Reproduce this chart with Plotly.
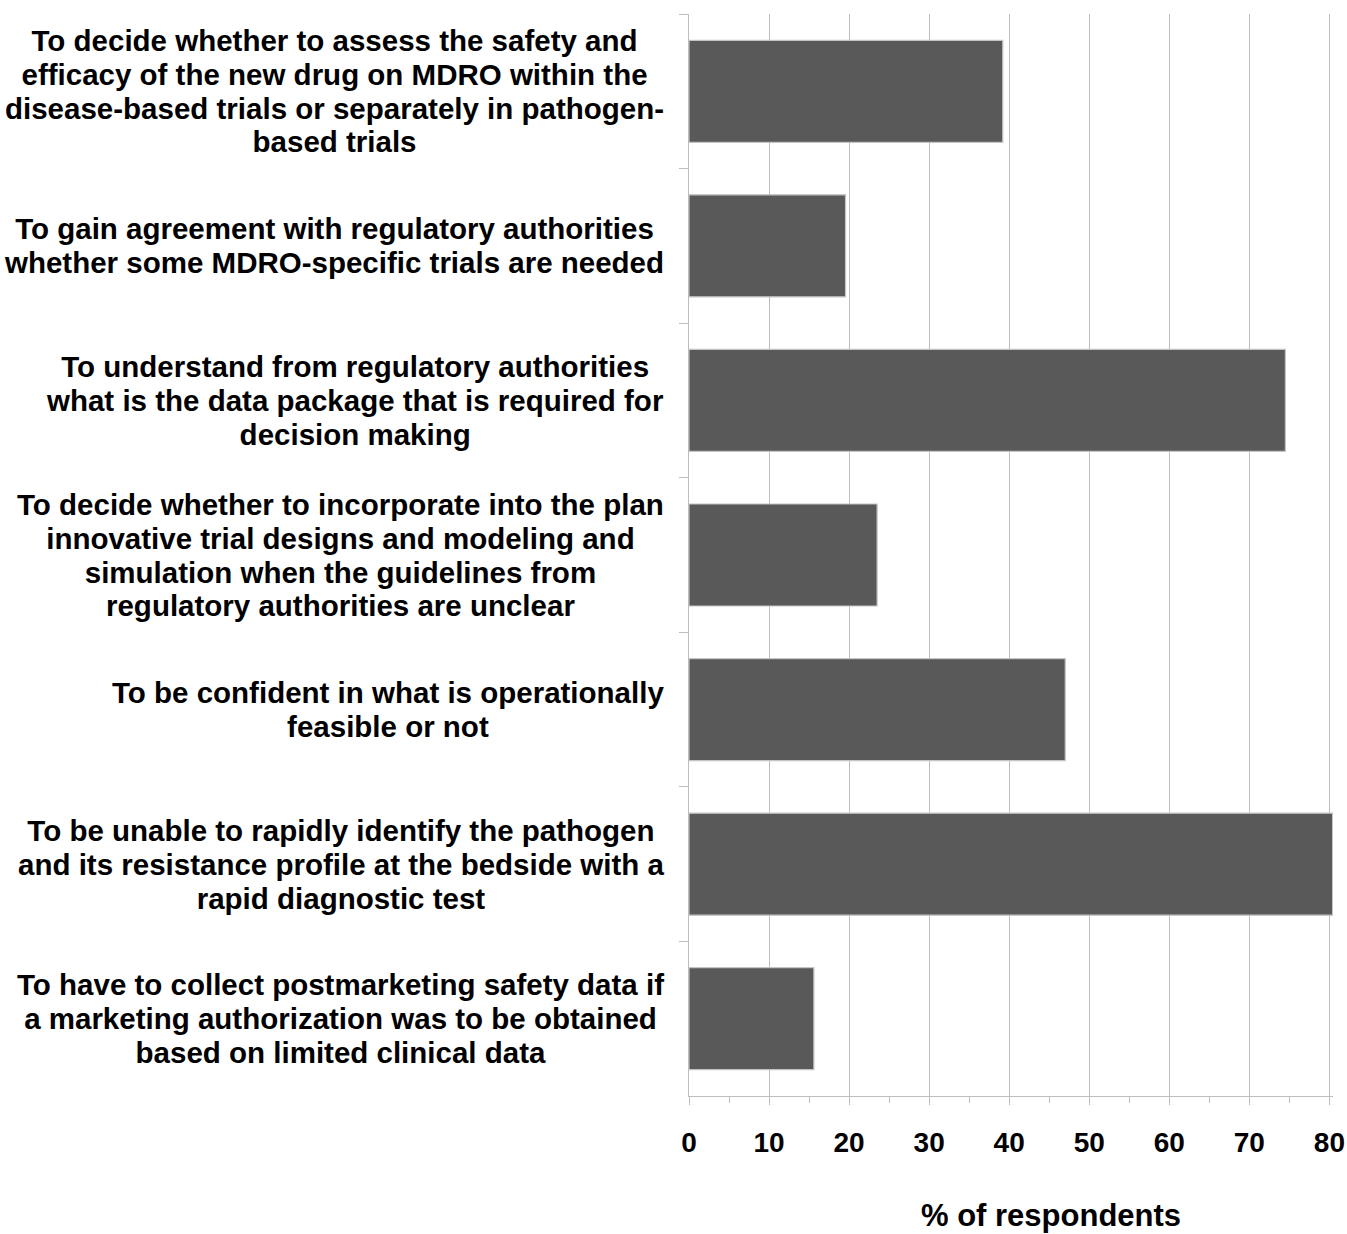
import plotly.graph_objects as go

categories = [
    "To decide whether to assess the safety and<br>efficacy of the new drug on MDRO within the<br>disease-based trials or separately in pathogen-<br>based trials",
    "To gain agreement with regulatory authorities<br>whether some MDRO-specific trials are needed",
    "To understand from regulatory authorities<br>what is the data package that is required for<br>decision making",
    "To decide whether to incorporate into the plan<br>innovative trial designs and modeling and<br>simulation when the guidelines from<br>regulatory authorities are unclear",
    "To be confident in what is operationally<br>feasible or not",
    "To be unable to rapidly identify the pathogen<br>and its resistance profile at the bedside with a<br>rapid diagnostic test",
    "To have to collect postmarketing safety data if<br>a marketing authorization was to be obtained<br>based on limited clinical data",
]
values = [39.2, 19.55, 74.5, 23.5, 47.0, 80.4, 15.6]
x_ticks = [0, 10, 20, 30, 40, 50, 60, 70, 80]
x_title = "% of respondents"

FONT = "Liberation Sans, Arial, sans-serif"
GRID = "#bdbdbd"

fig = go.Figure()
fig.add_trace(go.Bar(
    y=categories, x=values, orientation="h", width=0.66,
    marker=dict(color="#595959", line=dict(color="#c4c4c4", width=1.2)),
    hoverinfo="x",
))

W, H = 1347, 1234
ml, mr, mt, mb = 689, 14, 14, 138
pw = W - ml - mr
ph = H - mt - mb

fig.update_layout(
    width=W, height=H,
    margin=dict(l=ml, r=mr, t=mt, b=mb, pad=0, autoexpand=False),
    plot_bgcolor="white", paper_bgcolor="white",
    showlegend=False,
    font=dict(family=FONT, color="black"),
    xaxis=dict(
        range=[0, 80.45], tickvals=x_ticks, ticktext=[str(v) for v in x_ticks],
        automargin=False,
        showgrid=True, gridcolor=GRID, gridwidth=1.3,
        showline=True, linecolor=GRID, linewidth=1.3,
        ticks="outside", ticklen=8, tickcolor=GRID, tickwidth=1.3,
        tickfont=dict(size=28, family=FONT, color="black", weight="bold"),
        ticklabelstandoff=13,
        minor=dict(dtick=5, tick0=0, ticks="outside", ticklen=6, tickcolor=GRID, tickwidth=1.3, showgrid=False),
        zeroline=False,
    ),
    yaxis=dict(
        categoryorder="array", categoryarray=categories, autorange="reversed",
        automargin=False,
        showticklabels=False, tickson="boundaries",
        ticks="outside", ticklen=9, tickcolor=GRID, tickwidth=1.3,
        showline=True, linecolor=GRID, linewidth=1.3, showgrid=False,
        zeroline=False,
    ),
)

for c in categories:
    lines = c.split("<br>")
    txt = "<br>".join("<b><span style='font-size:29.5px'>" + ln + "</span></b>" for ln in lines)
    fig.add_annotation(
        x=-23 / pw, xref="paper", y=c, yref="y",
        text=txt, showarrow=False,
        xanchor="right", yanchor="middle", align="center",
        font=dict(size=26, family=FONT, color="black"),
    )

fig.add_annotation(
    x=(1051 - ml) / pw, xref="paper", y=(mt + ph - 1215) / ph, yref="paper",
    text="<b>" + x_title + "</b>", showarrow=False,
    xanchor="center", yanchor="middle",
    font=dict(size=31, family=FONT, color="black"),
)

fig.write_html("out.html")
